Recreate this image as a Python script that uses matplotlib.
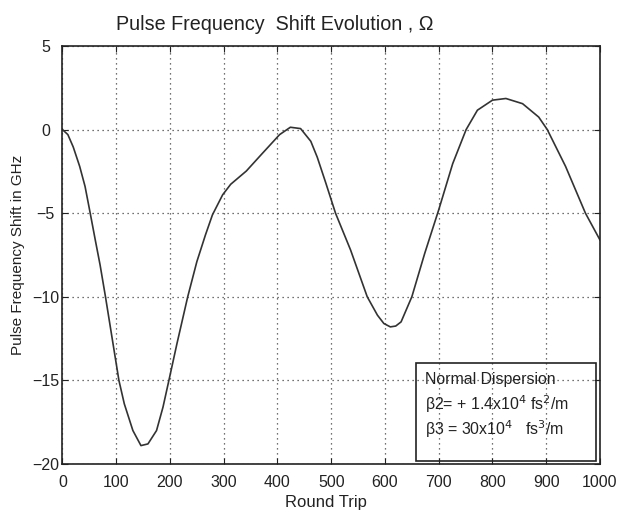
import matplotlib
matplotlib.use("Agg")
import matplotlib.pyplot as plt
from matplotlib.patches import Rectangle
from matplotlib import font_manager

round_trip = [0, 10, 20, 32, 42, 51, 61, 70, 80, 96, 105, 115, 131, 146, 159, 175, 187,
              198, 213, 233, 250, 266, 279, 298, 313, 342, 370, 404, 424, 443, 462, 474,
              490, 508, 536, 567, 586, 598, 610, 620, 630, 650, 674, 700, 726, 751, 772,
              800, 825, 856, 886, 902, 936, 973, 1000]
freq_shift = [0.0, -0.3, -1.04, -2.2, -3.4, -4.9, -6.6, -8.1, -10.0, -13.2, -15.0, -16.4,
              -18.0, -18.9, -18.8, -18.0, -16.6, -15.0, -12.8, -10.0, -7.9, -6.3, -5.1,
              -3.9, -3.27, -2.48, -1.49, -0.3, 0.14, 0.06, -0.7, -1.65, -3.2, -5.0, -7.2,
              -10.0, -11.1, -11.6, -11.8, -11.75, -11.5, -10.0, -7.4, -4.8, -2.04, 0.0,
              1.16, 1.76, 1.86, 1.55, 0.75, 0.0, -2.2, -5.0, -6.6]
x_ticks = [0, 100, 200, 300, 400, 500, 600, 700, 800, 900, 1000]
y_ticks = [-20, -15, -10, -5, 0, 5]

names = {f.name for f in font_manager.fontManager.ttflist}
tick_family = ['Liberation Sans Narrow', 'Liberation Sans'] if 'Liberation Sans Narrow' in names else ['Liberation Sans']
plt.rcParams['font.family'] = ['Liberation Sans', 'DejaVu Sans']
ink = '#222222'

fig = plt.figure(figsize=(6.18, 5.11), dpi=100)
ax = fig.add_axes([0.1011, 0.092, 0.8697, 0.818])
ax.plot(round_trip, freq_shift, color='#333333', lw=1.2)
ax.set_xlim(0, 1000)
ax.set_ylim(-20, 5)
ax.set_xticks(x_ticks)
ax.set_yticks(y_ticks)
ax.tick_params(direction='in', top=True, right=True, length=4, colors=ink)
ax.tick_params(axis='x', pad=8)
ax.tick_params(axis='y', pad=12)
for lab in ax.get_xticklabels() + ax.get_yticklabels():
    lab.set_family(tick_family)
    lab.set_fontsize(11.5)
for lab in ax.get_yticklabels():
    lab.set_horizontalalignment('center')
ax.grid(True, linestyle=(0, (1, 3)), color='#444444', lw=0.9)
for s in ax.spines.values():
    s.set_linewidth(1.2)
    s.set_color(ink)

fig.text(0.445, 0.953, 'Pulse Frequency  Shift Evolution , Ω', fontsize=14.2, color=ink,
         ha='center', va='center')
ax.set_xlabel('Round Trip', fontsize=12, color=ink)
ax.xaxis.set_label_coords(0.49, -0.091)
ax.xaxis.label.set_va('center')
ax.set_ylabel('Pulse Frequency Shift in GHz', fontsize=11, color=ink)
ax.yaxis.set_label_coords(-0.083, 0.5)
ax.yaxis.label.set_va('center')

ax.add_patch(Rectangle((0.658, 0.007), 0.335, 0.235, transform=ax.transAxes,
                       fill=False, ec=ink, lw=1.2, zorder=5))
tx = 0.674
ax.text(tx, 0.201, 'Normal Dispersion', transform=ax.transAxes, fontsize=11.4, color=ink, va='center')
ax.text(tx, 0.1435, r'β2= + 1.4x10$^4$ fs$^2$/m', transform=ax.transAxes, fontsize=11.4, color=ink, va='center')
ax.text(tx, 0.084, r'β3 = 30x10$^4$   fs$^3$/m', transform=ax.transAxes, fontsize=11.4, color=ink, va='center')

fig.savefig('out.png', dpi=100)
